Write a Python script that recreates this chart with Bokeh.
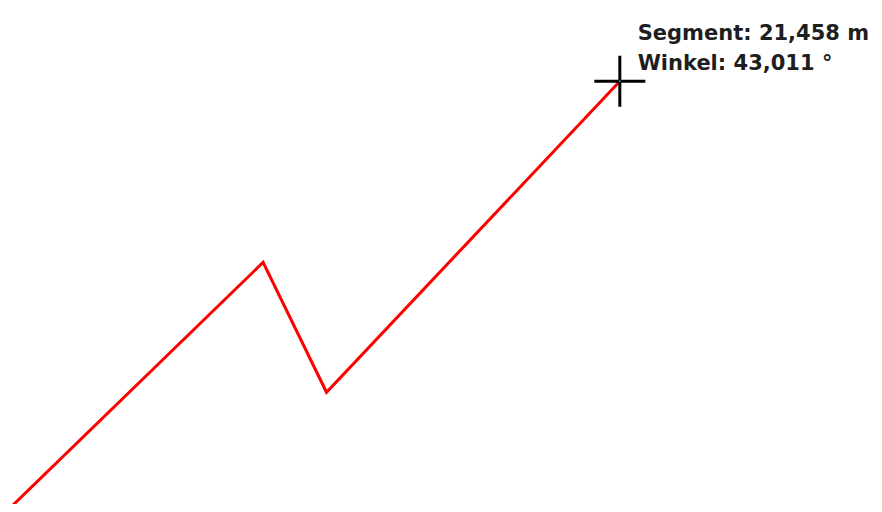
from bokeh.plotting import figure
from bokeh.models import Range1d
from bokeh.core.properties import value
from bokeh.embed import file_html
from bokeh.resources import INLINE

# polyline vertices (x to the right, y upward)
path_x = [5, 265, 329, 625]
path_y = [-8, 246, 114, 430]

# crosshair at last vertex
cross_x = [625]
cross_y = [430]

labels = ["Segment: 21,458 m", "Winkel: 43,011 °"]
label_x = [643, 643]
label_y = [479, 449]

p = figure(width=874, height=504, output_backend="svg", toolbar_location=None,
           x_range=Range1d(0, 882), y_range=Range1d(0, 512),
           min_border=0, min_border_left=0, min_border_right=0,
           min_border_top=0, min_border_bottom=0)
p.axis.visible = False
p.grid.visible = False
p.outline_line_color = None
p.background_fill_color = "white"
p.border_fill_color = "white"

p.line(path_x, path_y, line_color="#ff0000", line_width=3, line_join="miter")
p.scatter(cross_x, cross_y, marker="cross", size=51, line_color="black", line_width=3)
p.scatter(cross_x, cross_y, marker="circle", size=2, fill_color="#1aa0a0", line_color=None)

p.text(label_x, label_y, text=labels, text_font=value("DejaVu Sans"),
       text_font_style="bold", text_font_size="21px", text_color="#1e1e1e",
       text_baseline="alphabetic", text_align="left")

open("out.html", "w").write(file_html(p, INLINE))
